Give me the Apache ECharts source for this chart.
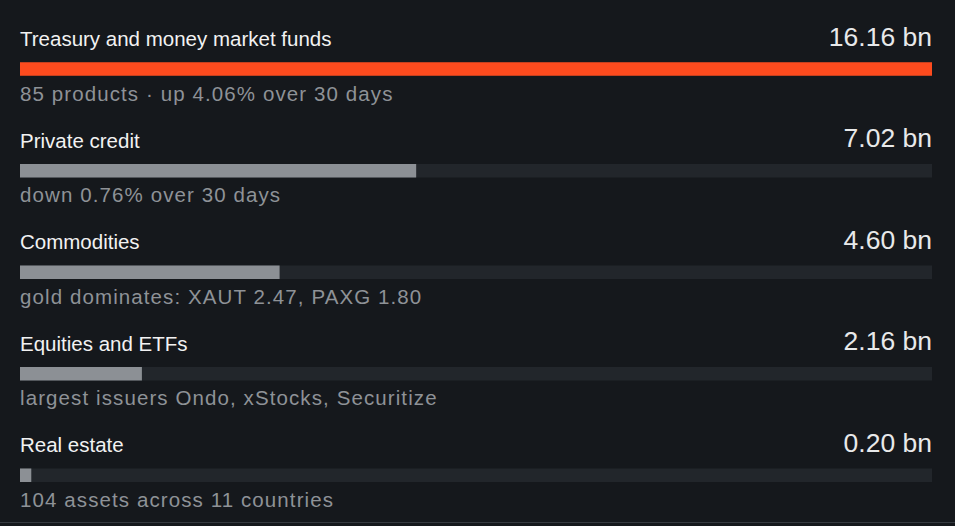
<!DOCTYPE html>
<html>
<head>
<meta charset="utf-8">
<script src="https://cdn.jsdelivr.net/npm/echarts@6/dist/echarts.min.js"></script>
<style>
  html, body { margin: 0; padding: 0; background: #15181c; }
  #chart { width: 955px; height: 526px; }
</style>
</head>
<body>
<div id="chart"></div>
<script>
// Tokenised real-world asset categories, value in billions of USD
const categories = [
  'Treasury and money market funds',
  'Private credit',
  'Commodities',
  'Equities and ETFs',
  'Real estate'
];
const values = [16.16, 7.02, 4.60, 2.16, 0.20];
const notes = [
  '85 products \u00b7 up 4.06% over 30 days',
  'down 0.76% over 30 days',
  'gold dominates: XAUT 2.47, PAXG 1.80',
  'largest issuers Ondo, xStocks, Securitize',
  '104 assets across 11 countries'
];
const unit = 'bn';

const FONT = 'Liberation Sans, Arial, Helvetica, sans-serif';
const maxValue = Math.max(...values);
const BAR_W = 13.5;

const chart = echarts.init(document.getElementById('chart'), null, { renderer: 'svg' });

chart.setOption({
  backgroundColor: '#15181c',
  animation: false,
  grid: { left: 20, right: 23, top: 18.35, height: 508.5, containLabel: false },
  xAxis: { type: 'value', min: 0, max: maxValue, show: false },
  yAxis: { type: 'category', data: categories, inverse: true, show: false },
  graphic: [{
    type: 'line',
    shape: { x1: 0, y1: 522.5, x2: 955, y2: 522.5 },
    style: { stroke: '#353a40', lineWidth: 1 },
    silent: true
  }],
  series: [
    {
      // full-width track, carries the value label on the right
      name: 'track',
      type: 'bar',
      barWidth: BAR_W,
      barGap: '-100%',
      silent: true,
      data: values.map(() => maxValue),
      itemStyle: { color: '#22262b' },
      label: {
        show: true,
        position: ['100%', -25.8],
        align: 'right',
        verticalAlign: 'middle',
        color: '#e8e9ea',
        fontFamily: FONT,
        fontSize: 26.5,
        formatter: p => values[p.dataIndex].toFixed(2) + ' ' + unit
      }
    },
    {
      // actual value bar, carries the category title
      name: 'value',
      type: 'bar',
      barWidth: BAR_W,
      barGap: '-100%',
      silent: true,
      data: values.map((v, i) => ({
        value: v,
        itemStyle: { color: i === 0 ? '#fd4b1e' : '#8c9095' }
      })),
      label: {
        show: true,
        position: [0, -23.7],
        align: 'left',
        verticalAlign: 'middle',
        color: '#f2f2f2',
        fontFamily: FONT,
        fontSize: 20.5,
        formatter: p => categories[p.dataIndex]
      }
    },
    {
      // transparent overlay, carries the note under each bar
      name: 'note',
      type: 'bar',
      barWidth: BAR_W,
      barGap: '-100%',
      silent: true,
      data: values.map(() => maxValue),
      itemStyle: { color: 'rgba(0,0,0,0)' },
      label: {
        show: true,
        position: [0, 31],
        align: 'left',
        verticalAlign: 'middle',
        color: '#8e9297',
        fontFamily: FONT,
        fontSize: 20.5,
        formatter: p => notes[p.dataIndex]
      }
    }
  ]
});

// widen the tracking of the note lines
function spaceNotes() {
  document.querySelectorAll('#chart svg text').forEach(t => {
    if (notes.indexOf(t.textContent) !== -1) {
      t.style.letterSpacing = '1.1px';
    }
  });
}
spaceNotes();
chart.on('finished', spaceNotes);
</script>
</body>
</html>
